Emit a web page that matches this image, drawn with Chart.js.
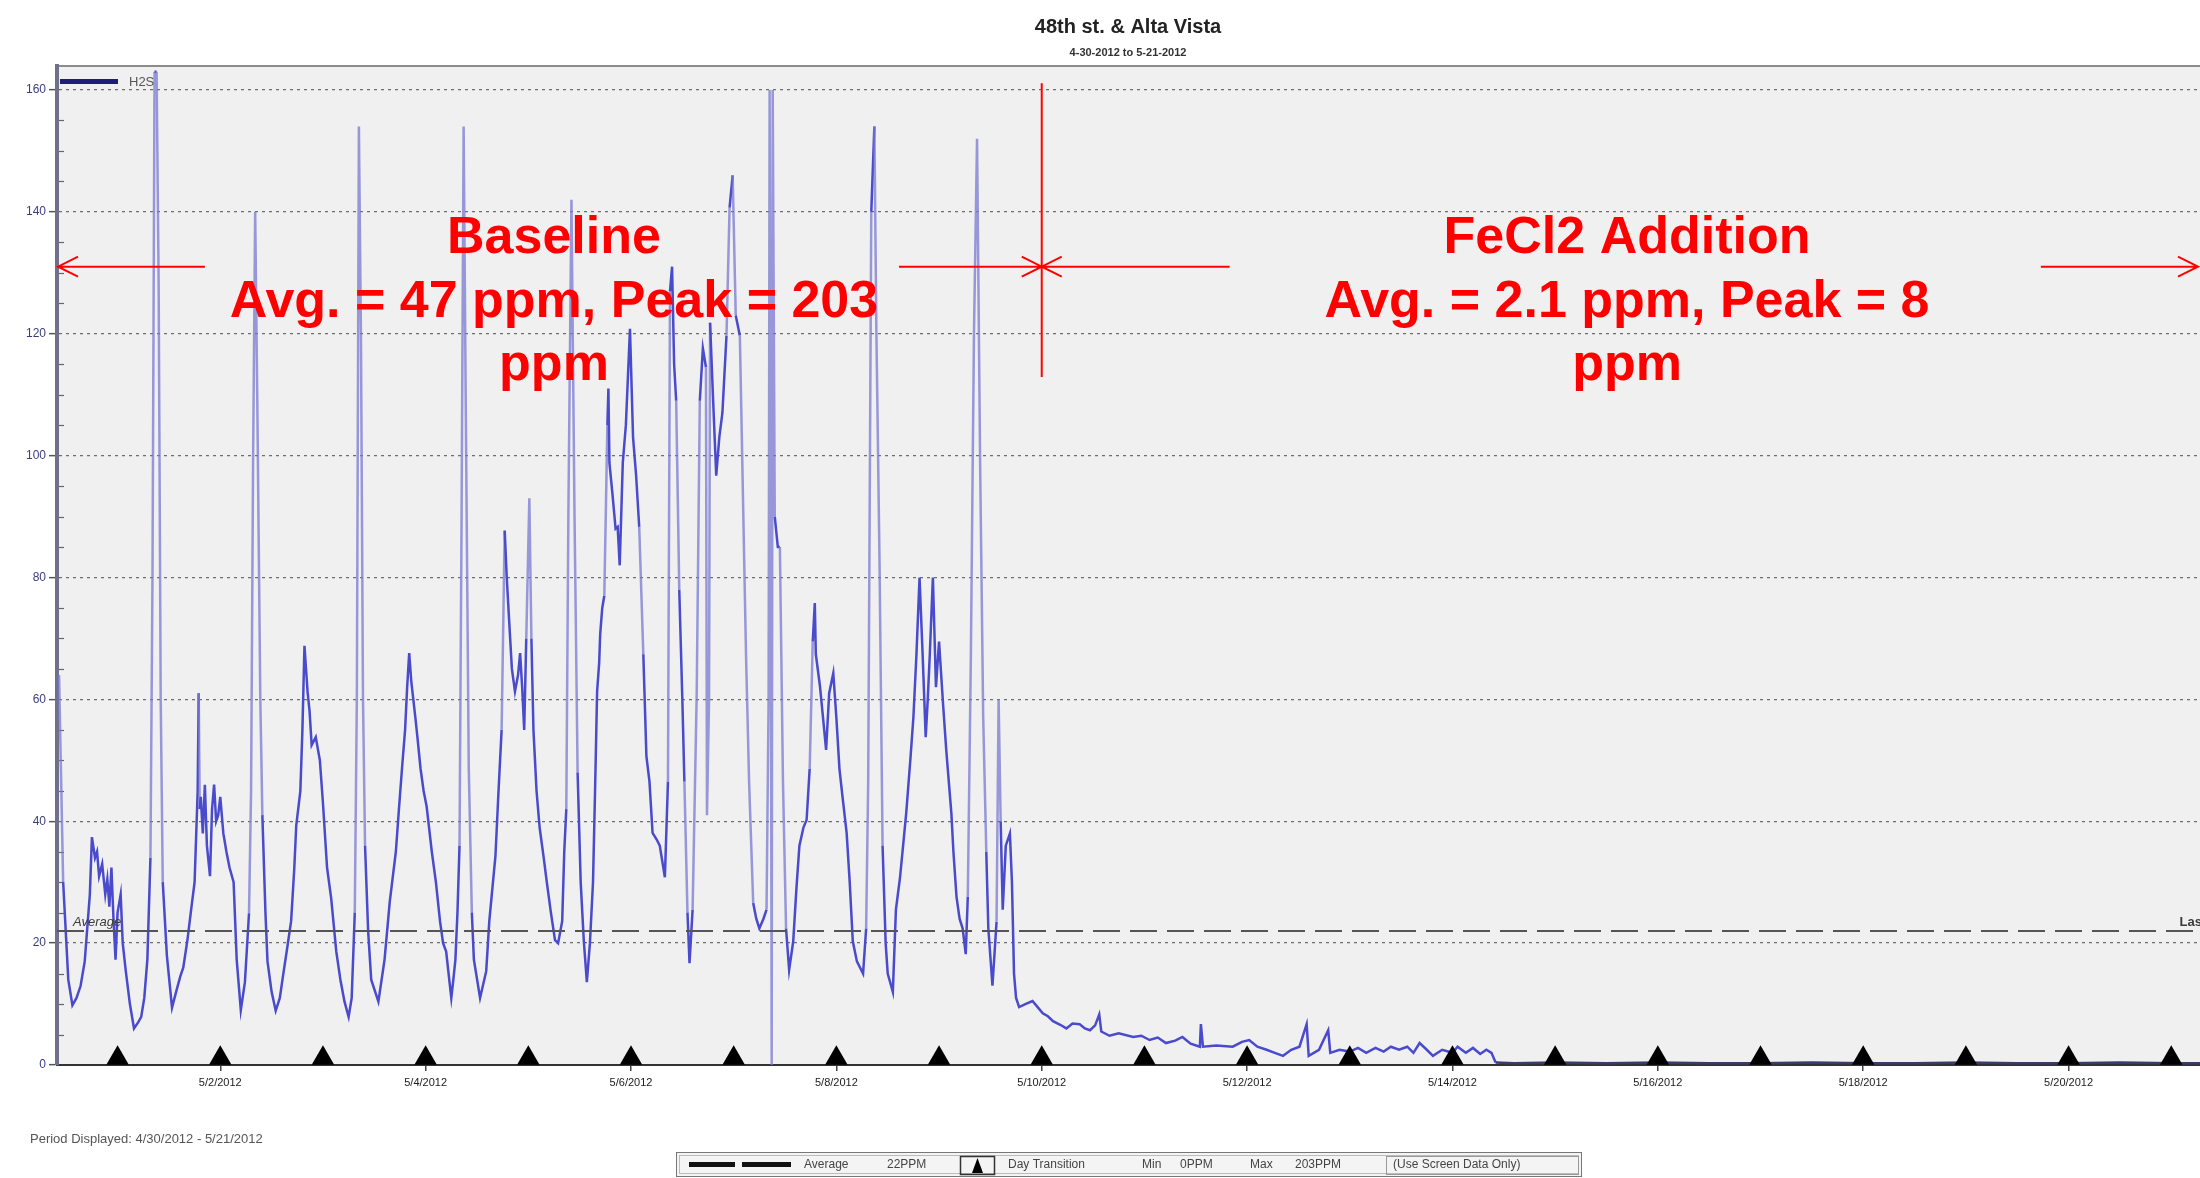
<!DOCTYPE html>
<html><head><meta charset="utf-8">
<script src="https://cdn.jsdelivr.net/npm/chart.js@4.4.1/dist/chart.umd.min.js"></script>
<style>html,body{margin:0;padding:0;background:#fff;overflow:hidden}canvas{display:block}</style>
</head><body>
<canvas id="c" width="2200" height="1178"></canvas>
<script>
// ---- text ----
const titleText = '48th st. & Alta Vista';
const subtitleText = '4-30-2012 to 5-21-2012';
const seriesName = 'H2S';
const periodText = 'Period Displayed: 4/30/2012 - 5/21/2012';
const baselineLines = ['Baseline', 'Avg. = 47 ppm, Peak = 203', 'ppm'];
const fecl2Lines = ['FeCl2 Addition', 'Avg. = 2.1 ppm, Peak = 8', 'ppm'];

// ---- data: x = days since 4/30/2012 00:00, y = H2S ppm ----
const h2sDay = [
  0.43,0.47,0.52,0.56,0.60,0.64,0.68,0.71,0.73,0.75,0.78,0.80,0.82,0.85,0.88,0.90,0.92,0.94,0.96,0.98,
  1.00,1.03,1.05,1.08,1.12,1.16,1.20,1.23,1.26,1.29,1.32,1.34,1.36,1.38,1.40,1.42,1.44,1.48,1.53,1.57,1.61,1.64,1.68,1.72,1.75,1.78,1.79,1.80,1.81,1.83,1.85,1.87,1.90,1.92,1.94,1.96,1.98,
  2.00,2.03,2.06,2.09,2.13,2.16,2.20,2.24,2.28,2.30,2.32,2.34,2.36,2.39,2.41,2.44,2.46,2.50,2.54,2.58,2.61,2.65,2.69,2.72,2.74,2.78,2.80,2.82,2.85,2.87,2.89,2.93,2.97,
  3.00,3.04,3.08,3.13,3.17,3.21,3.25,3.28,3.31,3.33,3.35,3.37,3.39,3.41,3.44,3.47,3.54,3.60,3.65,3.71,3.74,3.77,3.80,3.82,3.84,3.86,3.88,3.90,3.92,3.95,3.98,
  4.01,4.06,4.10,4.14,4.17,4.20,4.23,4.25,4.27,4.29,4.31,4.33,4.35,4.37,4.39,4.42,4.45,4.47,4.53,4.59,4.62,4.68,4.71,4.74,4.77,4.79,4.81,4.84,4.87,4.90,4.92,4.94,4.96,4.98,
  5.01,5.03,5.05,5.08,5.11,5.15,5.18,5.22,5.26,5.29,5.33,5.35,5.37,5.39,5.42,5.45,5.48,5.51,5.54,5.57,5.60,5.63,5.65,5.67,5.69,5.70,5.72,5.74,5.77,5.78,5.79,5.82,5.85,5.87,5.89,5.92,5.95,5.99,
  6.02,6.05,6.08,6.12,6.15,6.18,6.21,6.25,6.28,6.33,6.36,6.38,6.40,6.42,6.44,6.47,6.50,6.52,6.55,6.57,6.60,6.64,6.67,6.70,6.73,6.74,6.76,6.77,6.80,6.83,6.86,6.89,6.93,6.96,6.99,
  7.02,7.06,7.09,7.12,7.15,7.19,7.22,7.25,7.29,7.32,7.34,7.35,7.36,7.37,7.38,7.40,7.43,7.45,7.48,7.51,7.54,7.58,7.61,7.64,7.68,7.71,7.74,7.77,7.79,7.80,7.84,7.87,7.90,7.93,7.97,
  8.00,8.03,8.06,8.10,8.13,8.16,8.20,8.23,8.26,8.29,8.31,8.34,8.37,8.39,8.42,8.45,8.48,8.50,8.55,8.58,8.62,8.65,8.68,8.72,8.75,8.78,8.81,8.84,8.87,8.89,8.91,8.94,8.97,
  9.00,9.04,9.07,9.12,9.14,9.17,9.20,9.23,9.26,9.28,9.31,9.34,9.37,9.40,9.43,9.46,9.48,9.52,9.56,9.58,9.60,9.62,9.65,9.69,9.71,9.73,9.75,9.78,9.84,9.91,9.96,
  10.01,10.06,10.11,10.18,10.24,10.30,10.37,10.42,10.47,10.52,10.56,10.58,10.66,10.75,10.89,10.97,11.05,11.13,11.21,11.30,11.37,11.45,11.54,11.55,11.57,11.70,11.86,11.95,12.02,12.10,12.19,12.27,12.35,12.43,12.51,12.58,12.60,12.70,12.79,12.81,12.90,13.00,13.08,13.16,13.25,13.33,13.40,13.48,13.56,13.62,13.68,13.75,13.81,13.90,14.00,14.05,14.13,14.20,14.27,14.33,14.38,14.42,
  14.6,15.0,15.5,16.0,16.5,17.0,17.5,18.0,18.5,19.0,19.5,20.0,20.5,21.0,21.3
];
const h2sPpm = [
  64,30,14,9.8,11,13,17,23.6,28,37.4,34,35,31,33,28,30.5,26,32.4,24,17.3,
  25,28,20,15.4,10,6,7,7.9,11,17.3,34,80,163,163,128,60,30,18,9.4,12,14.5,16,20.5,26,30,45,61,42,44,38,46,36,31,42,46,40,41,
  44,38,35,32.4,30,17.3,9,13.6,24.9,45,100,140,110,60,41,25,17,12,8.9,11,14.5,19,23.6,32,39.3,45,55,68.8,61.3,58,52.5,53.8,50,
  43,32.4,27.4,18.6,14,10.4,7.9,11,25,60,154,120,60,36,22,14,10.4,17.3,26.7,35,42,48.7,55,62,67.6,63,60,57,53.8,48.7,45,
  42.4,35,30,23.6,20,18.6,14,11,14,17.3,25,36,90,154,110,48.7,25,17.3,11,15.4,23.6,34.3,45,55,87.7,80,73.9,65,61.3,64,67.6,62,55,70,
  93,70,55,45,39,34,30,25,20.5,20,23.6,35,42,90,142,90,48,30,20.5,13.6,20,30,45,61.3,66,70.7,75,77,105,111,98.8,93.6,88,88.3,82,98.8,105,120.8,
  103,96.7,88.3,67.4,50.7,46.5,38.1,37,36,30.8,46.5,127,131,115,109,78,60,46.5,25,16.7,25.5,61,109,117.6,114.5,41,60,121.8,109,96.7,103,107,119.7,140.7,146,
  123,119.7,93.6,67.4,46.5,26.6,24,22.4,24,25.5,60,160,100,0,160,90,85,85,46.5,22.4,15.6,20.3,28.7,36,39,40.2,48.6,69.5,75.8,67.4,62.2,57,51.7,61,64.3,
  57,48.6,44,38.1,30,20.3,17,16,15,22.4,46.5,140,154,120,83,36,20,15,12,25.5,30.8,36,41.3,50,57,67.4,80,67.4,53.8,60,67.4,80,62,
  69.5,59,51.7,41.3,35,27.6,24,22.4,18.2,27.6,67.4,120,152,98.8,57,35,22.4,13,23.5,60,40,25.5,36,38,30,15,11,9.5,10,10.5,9.5,
  8.5,8,7.2,6.6,6,6.8,6.7,6,5.7,6.5,8.3,5.5,4.8,5.2,4.6,4.8,4.1,4.5,3.6,4,4.6,3.5,3,6.7,3,3.2,3,3.8,4.1,3,2.5,2,1.5,2.5,3,6.7,1.5,2.5,5.7,2,2.5,2.2,2.8,2,2.8,2.2,3,2.5,3,2,3.6,2.5,1.5,2.5,2,3,2,2.8,1.8,2.5,2,0.4,
  0.3,0.4,0.3,0.4,0.3,0.3,0.4,0.3,0.3,0.4,0.3,0.3,0.4,0.3,0.3
];
const averagePpm = 22;
const minPpm = 0;
const maxPpm = 203;
const dayTransitionDays = [1,2,3,4,5,6,7,8,9,10,11,12,13,14,15,16,17,18,19,20,21];
const tickDays = [2,4,6,8,10,12,14,16,18,20];
const tickLabels = ['5/2/2012','5/4/2012','5/6/2012','5/8/2012','5/10/2012','5/12/2012','5/14/2012','5/16/2012','5/18/2012','5/20/2012'];
const yTickValues = [0,20,40,60,80,100,120,140,160];
const xRange = [0.41, 21.28];
const yRange = [0, 163.94];
const feCl2StartDay = 10;

const FONT = "'Liberation Sans', Arial, sans-serif";
const RED = '#ff0000';

function arrow(ctx, x1, x2, y) {
  const d = x2 > x1 ? -1 : 1;
  ctx.beginPath();
  ctx.moveTo(x1, y); ctx.lineTo(x2, y);
  ctx.moveTo(x2 + d * 20, y - 10); ctx.lineTo(x2, y); ctx.lineTo(x2 + d * 20, y + 10);
  ctx.stroke();
}

const decor = {
  id: 'decor',
  beforeDraw(chart) {
    const {ctx, chartArea: a} = chart;
    ctx.save();
    ctx.fillStyle = '#f0f0f0';
    ctx.fillRect(a.left, a.top, a.right - a.left, a.bottom - a.top);
    ctx.strokeStyle = '#8c8c8c'; ctx.lineWidth = 2;
    ctx.beginPath(); ctx.moveTo(a.left - 2, a.top); ctx.lineTo(a.right, a.top); ctx.stroke();
    ctx.restore();
  },
  beforeDatasetsDraw(chart) {
    const {ctx, chartArea: a, scales: {y}} = chart;
    ctx.save();
    ctx.strokeStyle = '#666'; ctx.lineWidth = 1.2;
    for (let v = 5; v < 160; v += 5) {
      if (v % 20 === 0) continue;
      const py = Math.round(y.getPixelForValue(v)) + 0.5;
      ctx.beginPath(); ctx.moveTo(a.left + 2, py); ctx.lineTo(a.left + 7, py); ctx.stroke();
    }
    ctx.restore();
  },
  afterDatasetsDraw(chart) {
    const {ctx, chartArea: a, scales: {x, y}} = chart;
    ctx.save();
    // average labels
    const ay = y.getPixelForValue(averagePpm);
    ctx.fillStyle = '#3a3a3a';
    ctx.font = 'italic 13px ' + FONT;
    ctx.textBaseline = 'bottom'; ctx.textAlign = 'left';
    ctx.fillText('Average', a.left + 16, ay - 2);
    ctx.font = 'bold 13px ' + FONT;
    ctx.fillText('Last', x.getPixelForValue(21.08), ay - 2);
    // red annotations
    ctx.strokeStyle = RED; ctx.fillStyle = RED; ctx.lineWidth = 2;
    const arrowY = y.getPixelForValue(131);
    const xs = x.getPixelForValue(feCl2StartDay);
    arrow(ctx, x.getPixelForValue(1.85), a.left + 1, arrowY);
    arrow(ctx, x.getPixelForValue(8.61), xs, arrowY);
    arrow(ctx, x.getPixelForValue(11.83), xs, arrowY);
    arrow(ctx, x.getPixelForValue(19.73), a.right - 2, arrowY);
    ctx.beginPath();
    ctx.moveTo(xs, y.getPixelForValue(161.1)); ctx.lineTo(xs, y.getPixelForValue(112.9));
    ctx.stroke();
    ctx.font = 'bold 52px ' + FONT;
    ctx.textAlign = 'center'; ctx.textBaseline = 'alphabetic';
    const lineVals = [133.2, 122.7, 112.4];
    const bx = x.getPixelForValue(5.25), fx = x.getPixelForValue(15.7);
    baselineLines.forEach((t, i) => ctx.fillText(t, bx, y.getPixelForValue(lineVals[i])));
    fecl2Lines.forEach((t, i) => ctx.fillText(t, fx, y.getPixelForValue(lineVals[i])));
    ctx.restore();
  },
  afterDraw(chart) {
    const {ctx, chartArea: a} = chart;
    ctx.save();
    // title
    ctx.fillStyle = '#222'; ctx.textAlign = 'center'; ctx.textBaseline = 'middle';
    ctx.font = 'bold 20px ' + FONT;
    ctx.fillText(titleText, 1128, 27);
    ctx.font = 'bold 11px ' + FONT;
    ctx.fillStyle = '#333';
    ctx.fillText(subtitleText, 1128, 53);
    // series legend
    ctx.fillStyle = '#1e1e78';
    ctx.fillRect(a.left + 3, a.top + 13, 58, 5);
    ctx.fillStyle = '#555'; ctx.textAlign = 'left';
    ctx.font = '13px ' + FONT;
    ctx.fillText(seriesName, a.left + 72, a.top + 16);
    // period text
    ctx.fillStyle = '#555';
    ctx.font = '13px ' + FONT;
    ctx.fillText(periodText, 30, 1139);
    // bottom legend box
    ctx.fillStyle = '#f4f4f4';
    ctx.fillRect(676, 1152, 906, 25);
    ctx.strokeStyle = '#777'; ctx.lineWidth = 1;
    ctx.strokeRect(676.5, 1152.5, 905, 24);
    ctx.strokeStyle = '#bbb';
    ctx.strokeRect(679.5, 1155.5, 899, 18);
    ctx.fillStyle = '#111';
    ctx.fillRect(689, 1162, 46, 5);
    ctx.fillRect(742, 1162, 49, 5);
    ctx.fillStyle = '#444'; ctx.font = '12px ' + FONT; ctx.textBaseline = 'middle';
    ctx.fillText('Average', 804, 1165);
    ctx.fillText(averagePpm + 'PPM', 887, 1165);
    ctx.strokeStyle = '#333'; ctx.lineWidth = 1.5;
    ctx.strokeRect(960.5, 1156.5, 34, 18);
    ctx.fillStyle = '#000';
    ctx.beginPath(); ctx.moveTo(977.5, 1158); ctx.lineTo(972, 1173); ctx.lineTo(983, 1173); ctx.closePath(); ctx.fill();
    ctx.fillStyle = '#444';
    ctx.fillText('Day Transition', 1008, 1165);
    ctx.fillText('Min', 1142, 1165);
    ctx.fillText(minPpm + 'PPM', 1180, 1165);
    ctx.fillText('Max', 1250, 1165);
    ctx.fillText(maxPpm + 'PPM', 1295, 1165);
    ctx.strokeStyle = '#999'; ctx.lineWidth = 1;
    ctx.strokeRect(1386.5, 1156.5, 192, 18);
    ctx.fillText('(Use Screen Data Only)', 1393, 1165);
    ctx.restore();
  }
};

const ctx = document.getElementById('c').getContext('2d');
new Chart(ctx, {
  type: 'line',
  data: {
    datasets: [
      {
        label: seriesName,
        data: h2sDay.map((d, i) => ({x: d, y: h2sPpm[i]})),
        borderColor: '#5a5ad0',
        borderWidth: 2.5,
        pointRadius: 0,
        tension: 0,
        order: 3,
        segment: {
          borderColor: c => {
            const d0 = h2sDay[c.p0DataIndex];
            if (d0 >= 14.4) return '#3a3a6e';
            return Math.abs(c.p1.y - c.p0.y) > 110 ? 'rgba(120,120,210,0.75)' : '#4a4acc';
          }
        }
      },
      {
        label: 'Average',
        data: [{x: xRange[0], y: averagePpm}, {x: xRange[1], y: averagePpm}],
        borderColor: '#555',
        borderDash: [27, 10],
        borderWidth: 2,
        pointRadius: 0,
        order: 2
      },
      {
        label: 'Day Transition',
        type: 'scatter',
        showLine: false,
        data: dayTransitionDays.map(d => ({x: d, y: 1.1})),
        pointStyle: 'triangle',
        pointRadius: 13,
        backgroundColor: '#000',
        borderColor: '#000',
        borderWidth: 0,
        clip: false,
        order: 1
      }
    ]
  },
  options: {
    responsive: false,
    animation: false,
    devicePixelRatio: 1,
    layout: {autoPadding: false, padding: {top: 66, left: 0, right: 0, bottom: 0}},
    plugins: {legend: {display: false}, tooltip: {enabled: false}, title: {display: false}},
    scales: {
      x: {
        type: 'linear',
        min: xRange[0], max: xRange[1],
        afterBuildTicks: s => { s.ticks = tickDays.map(v => ({value: v})); },
        afterFit: s => { s.height = 113; s.paddingLeft = 0; s.paddingRight = 0; },
        ticks: {
          callback: v => tickLabels[tickDays.indexOf(v)],
          font: {size: 11, family: FONT},
          color: '#1a1a1a',
          maxRotation: 0, autoSkip: false, padding: 5
        },
        grid: {drawOnChartArea: false, drawTicks: true, tickLength: 6, color: '#444', lineWidth: 1.5},
        border: {display: true, color: '#333', width: 2}
      },
      y: {
        type: 'linear',
        min: yRange[0], max: yRange[1],
        afterBuildTicks: s => { s.ticks = yTickValues.map(v => ({value: v})); },
        afterFit: s => { s.width = 57; s.paddingTop = 0; s.paddingBottom = 0; },
        ticks: {font: {size: 12, family: FONT}, color: '#3d3d7d', padding: 3},
        grid: {color: '#6e6e6e', lineWidth: 1.3, tickLength: 8, tickColor: '#555', tickWidth: 1.5},
        border: {display: true, color: '#70708a', width: 4, dash: [3, 4]}
      }
    }
  },
  plugins: [decor]
});
</script>
</body></html>
